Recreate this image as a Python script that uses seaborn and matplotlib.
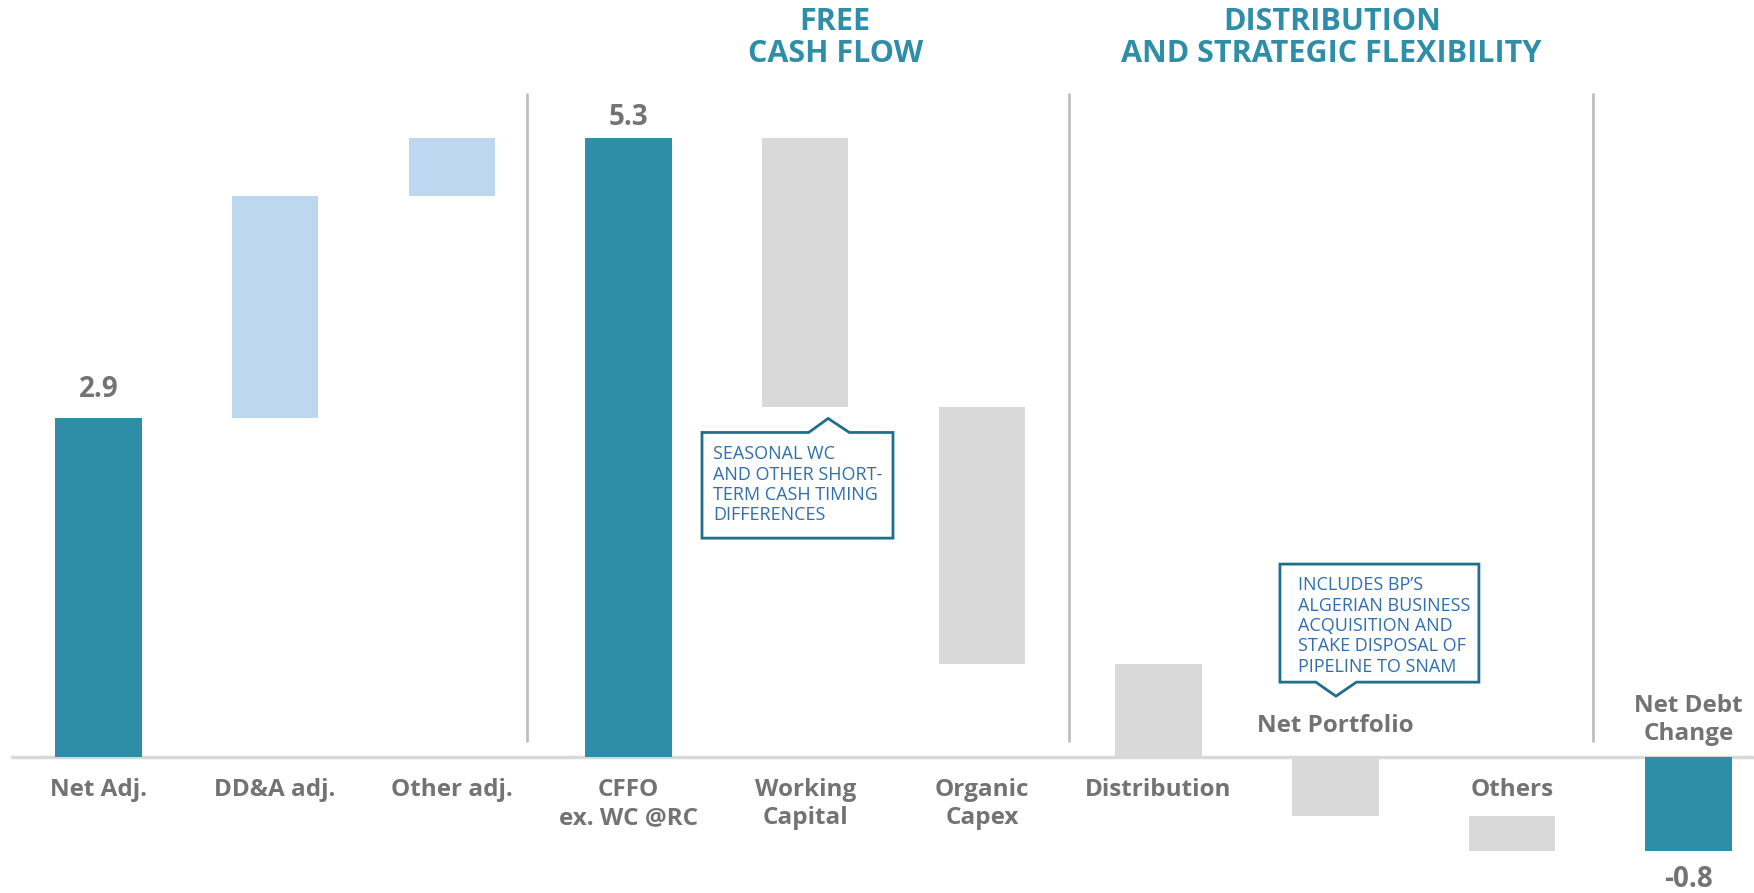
import numpy as np
import pandas as pd
import seaborn as sns
import matplotlib.pyplot as plt
from matplotlib.patches import Polygon

# waterfall data ($bn)
categories = ["Net Adj.", "DD&A adj.", "Other adj.", "CFFO\nex. WC @RC", "Working\nCapital",
              "Organic\nCapex", "Distribution", "Net Portfolio", "Others", "Net Debt\nChange"]
deltas = [2.9, 1.9, 0.5, 5.3, -2.3, -2.2, -0.8, -0.5, -0.3, -0.8]
kinds = ["total", "up", "up", "total", "down", "down", "down", "down", "down", "total"]
value_labels = {0: "2.9", 3: "5.3", 9: "-0.8"}

TEAL = "#2E8EA8"
colours = {"total": TEAL, "up": "#BDD7EE", "down": "#D9D9D9"}
GREY_TXT = "#737373"

# running start / end of each bar
starts, ends = [], []
level = 0.0
for d, k in zip(deltas, kinds):
    if k == "total":
        s, e = 0.0, d
        level = d
    else:
        s, e = level, level + d
        level = e
    starts.append(s)
    ends.append(e)

df = pd.DataFrame({"cat": categories, "start": starts, "end": ends, "kind": kinds})
df["height"] = df["end"] - df["start"]

sns.set_theme(style="white")
plt.rcParams["font.family"] = ["Open Sans", "DejaVu Sans"]

fig = plt.figure(figsize=(17.54, 8.93), dpi=100)
ax = fig.add_axes([0, 0, 1, 1])

sns.barplot(data=df, x="cat", y="height", order=categories, width=0.49, ax=ax,
            color=TEAL, saturation=1, linewidth=0)
# shift each bar to its floating start
for patch, (_, row) in zip(ax.patches, df.iterrows()):
    patch.set_y(row["start"])
    patch.set_height(row["height"])
    patch.set_facecolor(colours[row["kind"]])

ax.set_xlim(-0.557, 9.37)
ax.set_ylim(-1.16, 6.48)
ax.axis("off")

# baseline and section separators
ax.plot([-0.49, 9.37], [0, 0], color="#D9D9D9", lw=2.5, zorder=0)
for sx in [2.424, 5.494, 8.456]:
    ax.plot([sx, sx], [0.14, 5.68], color="#BFBFBF", lw=2, zorder=0)

# category labels
for i, (cat, s, e) in enumerate(zip(categories, starts, ends)):
    if cat == "Net Portfolio":
        ax.text(i, 0.27, cat, ha="center", va="center", fontsize=17.5, fontweight="bold", color=GREY_TXT)
    elif cat.startswith("Net Debt"):
        ax.text(i, 0.54, cat, ha="center", va="top", fontsize=17.5, fontweight="bold",
                color=GREY_TXT, linespacing=1.2)
    else:
        ax.text(i, -0.18, cat, ha="center", va="top", fontsize=17.5, fontweight="bold",
                color=GREY_TXT, linespacing=1.2)

# value labels
label_gap = {0: 0.12, 3: 0.05, 9: 0.12}
for i, txt in value_labels.items():
    top = max(starts[i], ends[i])
    bot = min(starts[i], ends[i])
    if deltas[i] >= 0:
        ax.text(i, top + label_gap[i], txt, ha="center", va="bottom", fontsize=20, fontweight="bold", color=GREY_TXT)
    else:
        ax.text(i, bot - label_gap[i], txt, ha="center", va="top", fontsize=20, fontweight="bold", color=GREY_TXT)

# section headers
ax.text(4.17, 6.42, "FREE\nCASH FLOW", ha="center", va="top", fontsize=22, fontweight="bold",
        color=TEAL, linespacing=1.1)
ax.text(6.98, 6.42, "DISTRIBUTION\nAND STRATEGIC FLEXIBILITY", ha="center", va="top", fontsize=22,
        fontweight="bold", color=TEAL, linespacing=1.1)

# callouts
BOX = "#1F6F8B"
BLUE_TXT = "#2F6EAF"
c1 = [(3.416, 2.78), (4.02, 2.78), (4.13, 2.90), (4.25, 2.78), (4.497, 2.78),
      (4.497, 1.876), (3.416, 1.876)]
ax.add_patch(Polygon(c1, closed=True, fill=False, edgecolor=BOX, lw=2, zorder=5))
ax.text(3.48, 2.67, "SEASONAL WC\nAND OTHER SHORT-\nTERM CASH TIMING\nDIFFERENCES", ha="left", va="top",
        fontsize=13, color=BLUE_TXT, linespacing=1.17)

c2 = [(6.687, 1.654), (7.813, 1.654), (7.813, 0.644), (7.12, 0.644), (7.004, 0.524),
      (6.89, 0.644), (6.687, 0.644)]
ax.add_patch(Polygon(c2, closed=True, fill=False, edgecolor=BOX, lw=2, zorder=5))
ax.text(6.787, 1.55, "INCLUDES BP\u2019S\nALGERIAN BUSINESS\nACQUISITION AND\nSTAKE DISPOSAL OF\nPIPELINE TO SNAM",
        ha="left", va="top", fontsize=13, color=BLUE_TXT, linespacing=1.17)

fig.savefig("out.png", dpi=100)
